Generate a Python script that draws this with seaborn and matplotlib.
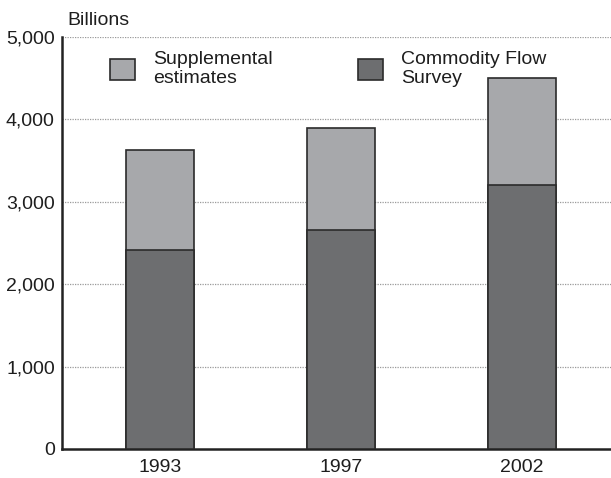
import matplotlib
matplotlib.use("Agg")
import matplotlib.pyplot as plt
import matplotlib.patches as mpatches
from matplotlib import font_manager
import seaborn as sns
import pandas as pd

# Data (billions of dollars)
years = ["1993", "1997", "2002"]
cfs_values = [2420, 2660, 3200]
supplemental_values = [1210, 1230, 1300]
totals = [c + s for c, s in zip(cfs_values, supplemental_values)]
yticks = [0, 1000, 2000, 3000, 4000, 5000]

light = "#a7a8ab"
dark = "#6d6e70"
edge = "#2b2b2b"
fs = 14

sns.set_theme(style="white")
names = {f.name for f in font_manager.fontManager.ttflist}
family = "Liberation Sans Narrow" if "Liberation Sans Narrow" in names else "Liberation Sans"
plt.rcParams["font.family"] = [family, "DejaVu Sans"]

df = pd.DataFrame({"year": years, "total": totals, "cfs": cfs_values})

fig = plt.figure(figsize=(6.11, 4.78), dpi=100)
ax = fig.add_axes([0.101, 0.0607, 0.899, 0.862])

sns.barplot(data=df, x="year", y="total", color=light, width=0.376,
            edgecolor=edge, linewidth=1.2, saturation=1, ax=ax, zorder=3)
sns.barplot(data=df, x="year", y="cfs", color=dark, width=0.376,
            edgecolor=edge, linewidth=1.2, saturation=1, ax=ax, zorder=3)

ax.set_xlim(-0.541, 2.49)
ax.set_ylim(0, 5000)
ax.set_yticks(yticks)
ax.set_yticklabels([f"{v:,}" for v in yticks], fontsize=fs, color="#1e1e1e")
ax.tick_params(axis="x", labelsize=fs, colors="#1e1e1e", length=0, pad=7)
ax.tick_params(axis="y", length=0, pad=5)
ax.set_xlabel("")
ax.set_ylabel("")

for v in yticks[1:]:
    ax.axhline(v, color="#9a9a9a", lw=0.9, ls=(0, (1, 1)), zorder=1)

for side in ["top", "right"]:
    ax.spines[side].set_visible(False)
for side in ["left", "bottom"]:
    ax.spines[side].set_color("#222222")
    ax.spines[side].set_linewidth(1.8)

fig.text(0.111, 0.94, "Billions", fontsize=fs, color="#1e1e1e", ha="left", va="bottom")

handles = [
    mpatches.Patch(facecolor=light, edgecolor=edge, linewidth=1.2, label="Supplemental\nestimates"),
    mpatches.Patch(facecolor=dark, edgecolor=edge, linewidth=1.2, label="Commodity Flow\nSurvey"),
]
leg = ax.legend(handles=handles, ncol=2, loc="upper left", bbox_to_anchor=(0.056, 1.008),
                frameon=False, fontsize=fs, handlelength=1.3, handleheight=1.3,
                handletextpad=0.9, columnspacing=4.4, labelspacing=0.2)
for t in leg.get_texts():
    t.set_linespacing(1.15)
    t.set_color("#1e1e1e")

fig.savefig("out.png", dpi=100)
